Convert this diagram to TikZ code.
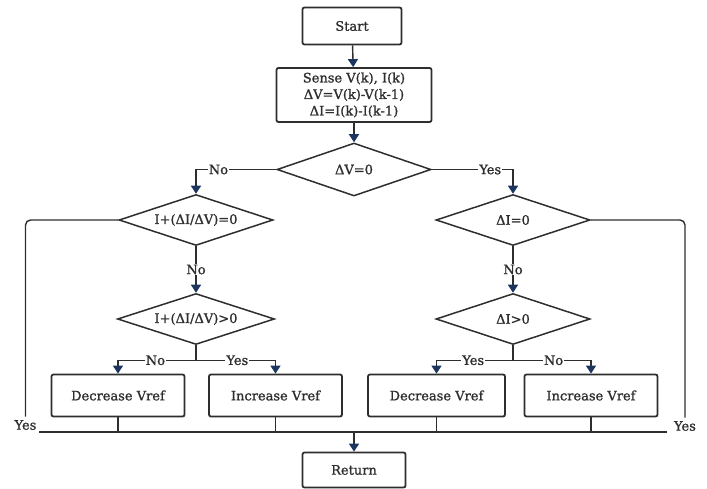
\documentclass[tikz,border=0pt]{standalone}
\usepackage{fontspec}
\setmainfont{DejaVu Serif}[BoldFont={DejaVu Serif}, BoldFeatures={FakeBold=1.2}]
\usetikzlibrary{shapes.geometric,arrows.meta}
\definecolor{ink}{HTML}{2E2E2E}
\definecolor{tipc}{HTML}{1B355E}
\begin{document}
\begin{tikzpicture}[x=1pt,y=-1pt,
  every node/.style={font=\fontsize{13}{16.5}\selectfont\bfseries, text=ink},
  box/.style={draw=ink, line width=1.8pt, rounded corners=2pt, minimum width=133pt,
              minimum height=42pt, align=center, inner sep=0pt},
  dec/.style={draw=ink, line width=1.5pt, diamond, aspect=3, inner sep=0pt,
              minimum width=154pt, minimum height=51pt},
  link/.style={draw=ink, line width=1.4pt},
  arr/.style={link, -{Triangle[length=8pt,width=10pt,color=tipc]}},
  lbl/.style={fill=white, inner sep=1pt}
]
\useasboundingbox (0,0) rectangle (707,489);

% process boxes and decisions
\node[box, minimum width=99pt, minimum height=37pt] (start) at (352,26) {Start};
\node[box, minimum width=155pt, minimum height=54pt] (sense) at (354,95)
  {Sense V(k), I(k)\\ ΔV=V(k)-V(k-1)\\ ΔI=I(k)-I(k-1)};
\node[dec, minimum height=53pt] (d0) at (354,169.5) {ΔV=0};
\node[dec] (dL1) at (196,220) {I+(ΔI/ΔV)=0};
\node[dec] (dR1) at (513,220) {ΔI=0};
\node[dec, minimum width=157pt] (dL2) at (196,319) {I+(ΔI/ΔV)>0};
\node[dec] (dR2) at (513,319) {ΔI>0};
\node[box] (decL) at (118,395.5) {Decrease Vref};
\node[box] (incL) at (275.5,395.5) {Increase Vref};
\node[box, minimum width=137pt] (decR) at (436.5,395.5) {Decrease Vref};
\node[box] (incR) at (591,395.5) {Increase Vref};
\node[box, minimum width=103pt, minimum height=35pt] (ret) at (354,470) {Return};

% labels where the outer loops join the bottom bus
\node (yesL) at (25.5,425) {Yes};
\node (yesR) at (685,426) {Yes};
\coordinate (busL) at (39,432);
\coordinate (busR) at (667,432);

% main flow
\draw[arr] (start) -- (sense);
\draw[arr] (sense) -- (d0);
\draw[arr] (d0.west) -| node[lbl,pos=.36]{No} (dL1.north);
\draw[arr] (d0.east) -| node[lbl,pos=.36]{Yes} (dR1.north);
\draw[arr] (dL1) -- node[lbl]{No} (dL2);
\draw[arr] (dR1) -- node[lbl]{No} (dR2);

% left branch split
\draw[link] (dL2.south) -- ++(0,15) coordinate (jL);
\draw[arr] (jL) -| node[lbl,pos=.26]{No} (decL.north);
\draw[arr] (jL) -| node[lbl,pos=.26]{Yes} (incL.north);

% right branch split
\draw[link] (dR2.south) -- ++(0,15) coordinate (jR);
\draw[arr] (jR) -| node[lbl,pos=.26]{Yes} (decR.north);
\draw[arr] (jR) -| node[lbl,pos=.26]{No} (incR.north);

% outer "Yes" loops
\draw[link, rounded corners=5pt] (dL1.west) -| (yesL.north);
\draw[link, rounded corners=5pt] (dR1.east) -| (yesR.north);

% collecting bus and return
\draw[link] (busL) -- (busR);
\foreach \n in {decL,incL,decR,incR}
  \draw[link] (\n.south) -- (\n.south |- busL);
\draw[arr] (ret.north |- busL) -- (ret);
\end{tikzpicture}
\end{document}
